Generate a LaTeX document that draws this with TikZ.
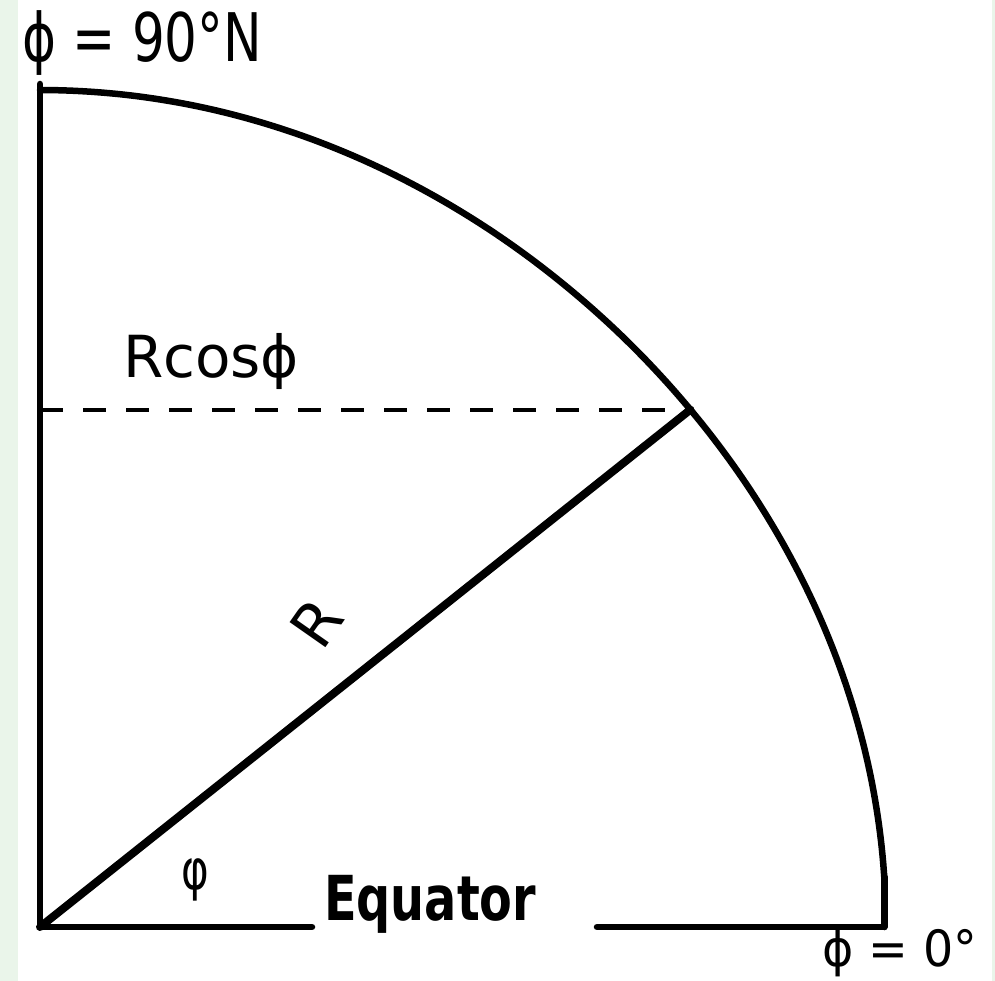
\documentclass[tikz,border=0pt]{standalone}
\usepackage{fontspec}
\setmainfont{DejaVu Sans}
\usetikzlibrary{positioning}
\definecolor{stripgreen}{RGB}{234,245,234}

\begin{document}
\begin{tikzpicture}[
      x=1pt,y=-1pt,
      declare function={mr(\t)=825+12*cos(2*\t)*cos(2*\t)+9*cos(\t)*cos(\t);},
      every node/.style={inner sep=0pt,outer sep=0pt},
      ln/.style={draw=black,line width=6.5pt,line cap=round,line join=round},
      rad/.style={draw=black,line width=8pt,line cap=round},
      dsh/.style={draw=black,line width=4pt,dash pattern=on 23pt off 20pt},
      lbl/.style={anchor=base west,transform shape}
    ]
    % page and side strips
    \useasboundingbox (0,0) rectangle (995,981);
    \fill[white] (0,0) rectangle (995,981);
    \fill[stripgreen] (0,0) rectangle (18,981);
    \fill[stripgreen] (992,0) rectangle (995,981);
    % key points
    \coordinate (O) at (40,927);
    \coordinate (N) at (40,84);
    \coordinate (P) at ({40+mr(38.5)*cos(38.5)},{927-mr(38.5)*sin(38.5)});
    \coordinate (Q) at (O|-P);
    \coordinate (E) at ({40+mr(3.4)*cos(3.4)},{927-mr(3.4)*sin(3.4)});
    \coordinate (C) at (E|-O);
    \coordinate (eqL) at (312,927);
    \coordinate (eqR) at (597,927);
    % quarter meridian
    \draw[ln] (O) -- (N);
    \draw[ln] plot[domain=90:3.4,samples=80,smooth]
      ({40+mr(\x)*cos(\x)},{927-mr(\x)*sin(\x)});
    \draw[ln] (E) -- (C);
    % equator
    \draw[ln] (O) -- (eqL);
    \draw[ln] (eqR) -- (C);
    % radius and parallel
    \draw[rad] (O) -- (P);
    \draw[dsh] (Q) -- (P);
    % labels
    \node[lbl,xscale=0.77,font=\fontsize{67}{70}\selectfont] (lblN) at (22,62) {ϕ = 90°N};
    \node[lbl,font=\fontsize{58}{60}\selectfont] (lblRcos) at (123,377) {Rcosϕ};
    \node[rotate=55,font=\fontsize{60}{60}\selectfont] (lblR) at (317,623) {R};
    \node[xscale=0.75,transform shape,font=\fontsize{56}{58}\selectfont] (lblphi) at (195,880) {φ};
    \node[lbl,xscale=0.77,font=\fontsize{62}{64}\selectfont\bfseries] (lblEq) at (324,920) {Equator};
    \node[lbl,xscale=0.95,font=\fontsize{50}{52}\selectfont] (lblZero) at (822,966) {ϕ = 0°};
  \end{tikzpicture}
\end{document}
